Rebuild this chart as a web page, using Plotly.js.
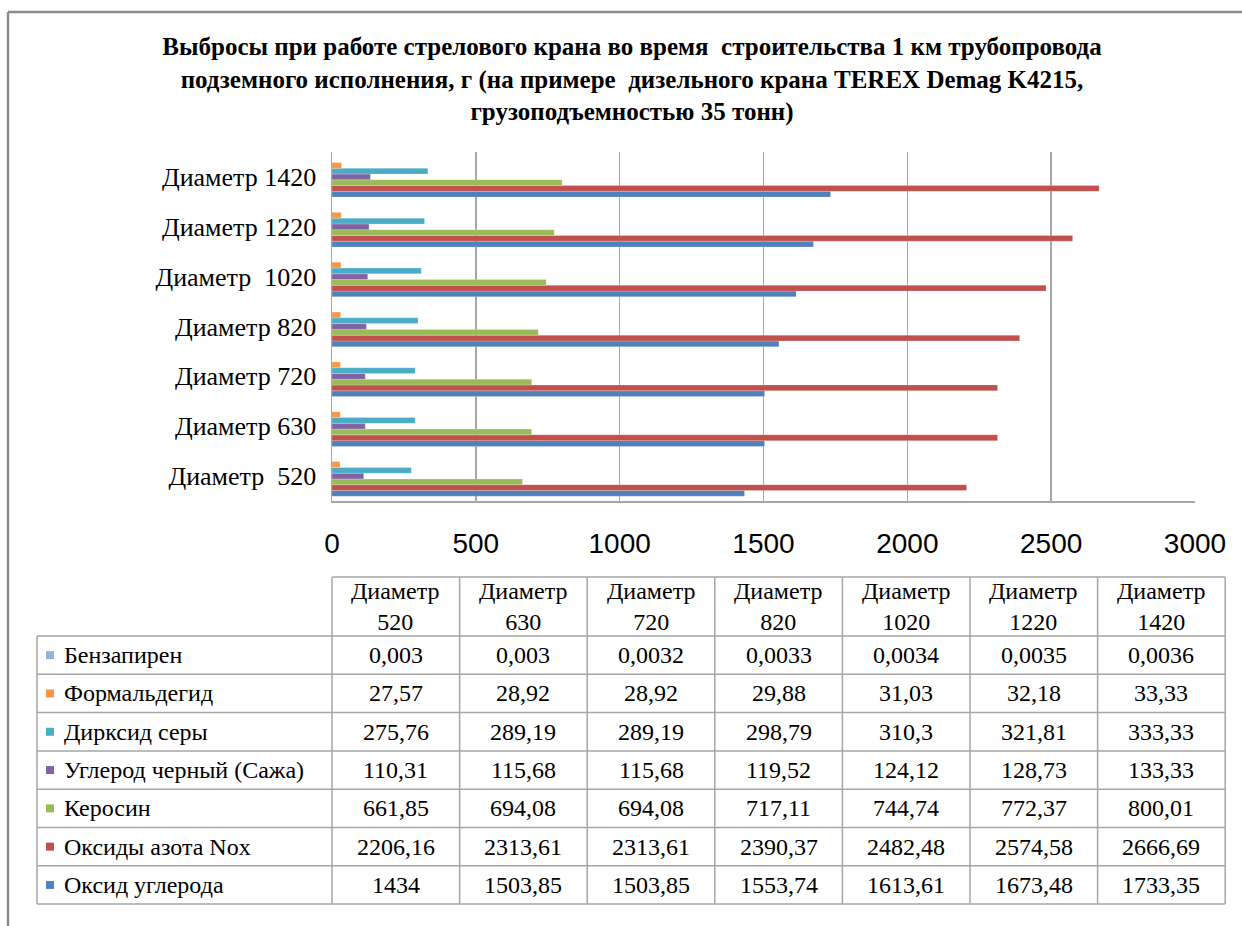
<!DOCTYPE html>
<html>
<head>
<meta charset="utf-8">
<script src="https://cdn.plot.ly/plotly-3.0.1.min.js"></script>
<style>html,body{margin:0;padding:0;background:#fff;}#chart{width:1242px;height:926px;}</style>
</head>
<body>
<div id="chart"></div>
<script>
// ---- data ----
const categories = ['Диаметр 520','Диаметр 630','Диаметр 720','Диаметр 820','Диаметр 1020','Диаметр 1220','Диаметр 1420'];
const axisLabels = ['Диаметр\u00A0\u00A0520','Диаметр 630','Диаметр 720','Диаметр 820','Диаметр\u00A0\u00A01020','Диаметр\u00A01220','Диаметр\u00A01420'];
const headerLabels = ['Диаметр<br>520','Диаметр<br>630','Диаметр<br>720','Диаметр<br>820','Диаметр<br>1020','Диаметр<br>1220','Диаметр<br>1420'];
const seriesNames = ['Бензапирен','Формальдегид','Дирксид серы','Углерод черный (Сажа)','Керосин','Оксиды азота Nox','Оксид углерода'];
const benzapiren   = [0.003, 0.003, 0.0032, 0.0033, 0.0034, 0.0035, 0.0036];
const formaldegid  = [27.57, 28.92, 28.92, 29.88, 31.03, 32.18, 33.33];
const dioksidSery  = [275.76, 289.19, 289.19, 298.79, 310.3, 321.81, 333.33];
const uglerodSazha = [110.31, 115.68, 115.68, 119.52, 124.12, 128.73, 133.33];
const kerosin      = [661.85, 694.08, 694.08, 717.11, 744.74, 772.37, 800.01];
const oksidyAzota  = [2206.16, 2313.61, 2313.61, 2390.37, 2482.48, 2574.58, 2666.69];
const oksidUglerod = [1434, 1503.85, 1503.85, 1553.74, 1613.61, 1673.48, 1733.35];
const xTicks = [0, 500, 1000, 1500, 2000, 2500, 3000];
const title = 'Выбросы при работе стрелового крана во время  строительства 1 км трубопровода<br>подземного исполнения, г (на примере  дизельного крана TEREX Demag K4215,<br>грузоподъемностью 35 тонн)';

const seriesValues = [benzapiren, formaldegid, dioksidSery, uglerodSazha, kerosin, oksidyAzota, oksidUglerod];
const seriesColors = ['#95B3D7','#F79646','#4BACC6','#8064A2','#9BBB59','#C0504D','#4F81BD'];

// ---- page geometry ----
const W = 1242, H = 926;
const X = p => p / W;
const Y = p => 1 - p / H;
const plotL = 332, plotR = 1195, plotT = 152, plotB = 501;

// bars: bottom of each group is the last table row, so draw in reverse order
const traces = [];
for (let i = seriesNames.length - 1; i >= 0; i--) {
  traces.push({
    type: 'bar', orientation: 'h',
    name: seriesNames[i],
    y: axisLabels, x: seriesValues[i],
    marker: {color: seriesColors[i], line: {color: 'rgba(255,255,255,0.35)', width: 0.6}},
    hoverinfo: 'x+name'
  });
}

// ---- data table (shapes + annotations) ----
const tblL = 37, colStart = 332, colW = 127.6, hdrT = 577, hdrB = 636, rowH = 38.3;
const nCols = categories.length, nRows = seriesNames.length;
const tblR = colStart + colW * nCols;
const tblB = hdrB + rowH * nRows;
const lineStyle = {color: '#A6A6A6', width: 1.5};
const shapes = [];
const annotations = [];
// outer frame of chart area
shapes.push({type: 'line', xref: 'paper', yref: 'paper', x0: X(8), x1: X(1242), y0: Y(12), y1: Y(12), line: {color: '#8C8C8C', width: 2.5}});
shapes.push({type: 'line', xref: 'paper', yref: 'paper', x0: X(8), x1: X(8), y0: Y(12), y1: Y(926), line: {color: '#8C8C8C', width: 2.5}});
// header horizontal top line
shapes.push({type: 'line', xref: 'paper', yref: 'paper', x0: X(colStart), x1: X(tblR), y0: Y(hdrT), y1: Y(hdrT), line: lineStyle});
// horizontal row lines
for (let r = 0; r <= nRows; r++) {
  const yy = hdrB + r * rowH;
  shapes.push({type: 'line', xref: 'paper', yref: 'paper', x0: X(tblL), x1: X(tblR), y0: Y(yy), y1: Y(yy), line: lineStyle});
}
// vertical lines
shapes.push({type: 'line', xref: 'paper', yref: 'paper', x0: X(tblL), x1: X(tblL), y0: Y(hdrB), y1: Y(tblB), line: lineStyle});
for (let c = 0; c <= nCols; c++) {
  const xx = colStart + c * colW;
  shapes.push({type: 'line', xref: 'paper', yref: 'paper', x0: X(xx), x1: X(xx), y0: Y(hdrT), y1: Y(tblB), line: lineStyle});
}
const serif = '"Liberation Serif", "Times New Roman", serif';
const cellFont = {family: serif, size: 24, color: '#000'};
const hdrFont = {family: serif, size: 24, color: '#000'};
// header cells
for (let c = 0; c < nCols; c++) {
  annotations.push({xref: 'paper', yref: 'paper', x: X(colStart + (c + 0.5) * colW), y: Y((hdrT + hdrB) / 2),
    text: headerLabels[c], showarrow: false, xanchor: 'center', yanchor: 'middle', font: hdrFont});
}
// rows
for (let r = 0; r < nRows; r++) {
  const cy = hdrB + (r + 0.5) * rowH;
  shapes.push({type: 'rect', xref: 'paper', yref: 'paper', x0: X(46), x1: X(54), y0: Y(cy - 4), y1: Y(cy + 4),
    fillcolor: seriesColors[r], line: {width: 0}});
  annotations.push({xref: 'paper', yref: 'paper', x: X(62), y: Y(cy), text: seriesNames[r], showarrow: false,
    xanchor: 'left', yanchor: 'middle', font: cellFont});
  for (let c = 0; c < nCols; c++) {
    annotations.push({xref: 'paper', yref: 'paper', x: X(colStart + (c + 0.5) * colW), y: Y(cy),
      text: String(seriesValues[r][c]).replace('.', ','), showarrow: false, xanchor: 'center', yanchor: 'middle', font: cellFont});
  }
}

const layout = {
  width: W, height: H,
  margin: {l: 0, r: 0, t: 0, b: 0},
  paper_bgcolor: '#fff', plot_bgcolor: '#fff',
  showlegend: false,
  barmode: 'group', bargap: 0.19, bargroupgap: 0,
  title: {text: title, x: X(632), xanchor: 'center', y: Y(55), yanchor: 'top', yref: 'container',
    font: {family: serif, size: 25, color: '#000', weight: 'bold'}},
  xaxis: {
    domain: [X(plotL), X(plotR)], range: [0, 3000], tickvals: xTicks,
    showgrid: true, gridcolor: '#A6A6A6', gridwidth: 1.5, zeroline: false,
    showline: true, linecolor: '#A6A6A6', linewidth: 1.5,
    ticks: 'outside', ticklen: 17, tickcolor: 'rgba(0,0,0,0)',
    tickfont: {family: '"Liberation Sans", Arial, sans-serif', size: 28, color: '#000'},
    fixedrange: true
  },
  yaxis: {
    domain: [Y(plotB), Y(plotT)], type: 'category', categoryorder: 'array', categoryarray: axisLabels,
    showgrid: false, zeroline: false, showline: true, linecolor: '#A6A6A6', linewidth: 1.5,
    ticks: 'outside', ticklen: 9, tickcolor: 'rgba(0,0,0,0)',
    tickfont: {family: serif, size: 26, color: '#000'},
    fixedrange: true
  },
  shapes: shapes,
  annotations: annotations
};

Plotly.newPlot('chart', traces, layout, {displayModeBar: false, staticPlot: true});
</script>
</body>
</html>
